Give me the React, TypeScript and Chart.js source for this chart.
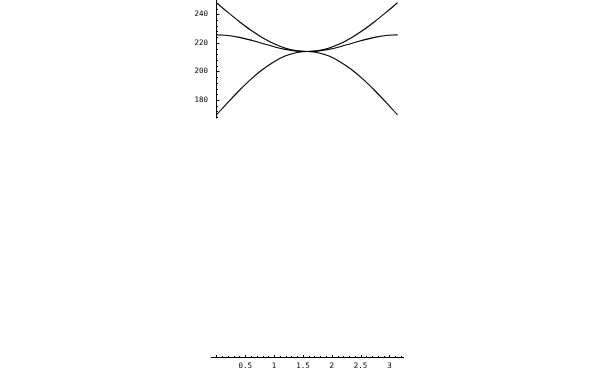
import React, { useEffect, useRef } from "react";
import { Chart, registerables } from "chart.js";

Chart.register(...registerables);

// sample positions along the x axis (0 .. pi)
const xs = [0, 0.2, 0.4, 0.6, 0.8, 1.0, 1.2, 1.4, 1.5708, 1.7416, 1.9416, 2.1416, 2.3416, 2.5416, 2.7416, 2.9416, 3.1416];
// upper curve (steep at ends)
const upperY = [248.1, 241.3, 234.8, 228.8, 223.6, 219.3, 216.2, 214.4, 213.9, 214.4, 216.2, 219.3, 223.6, 228.8, 234.8, 241.3, 248.1];
// middle curve (flat)
const middleY = [225.6, 225.1, 223.8, 221.9, 219.6, 217.3, 215.4, 214.2, 213.9, 214.2, 215.4, 217.3, 219.6, 221.9, 223.8, 225.1, 225.6];
// lower curve
const lowerY = [169.5, 178.3, 186.8, 194.6, 201.3, 206.8, 210.9, 213.2, 213.9, 213.2, 210.9, 206.8, 201.3, 194.6, 186.8, 178.3, 169.5];

const xTickLabels = [0.5, 1, 1.5, 2, 2.5, 3];
const yTickLabels = [180, 200, 220, 240];

const X_MIN = -0.0942;
const X_MAX = 3.2358;
const Y_MIN = 0;
const Y_MAX = 250;
const Y_AXIS_FROM = 167.1;
const Y_AXIS_TO = 250.9;

const FONT = { family: "'DejaVu Sans Mono', 'Liberation Mono', monospace", size: 7.5 };

const axesPlugin = {
  id: "mmaAxes",
  afterDraw(chart: any) {
    const { ctx } = chart;
    const xs_ = chart.scales.x;
    const ys_ = chart.scales.y;
    ctx.save();
    ctx.strokeStyle = "#000";
    ctx.lineWidth = 1;
    // y axis line at x = 0
    const ax = Math.round(xs_.getPixelForValue(0)) + 0.5;
    ctx.beginPath();
    ctx.moveTo(ax, ys_.getPixelForValue(Y_AXIS_FROM));
    ctx.lineTo(ax, ys_.getPixelForValue(Y_AXIS_TO));
    ctx.stroke();
    // y ticks: majors every 20, minors every 4
    for (let v = 168; v <= 250; v += 4) {
      const py = Math.round(ys_.getPixelForValue(v)) + 0.5;
      const major = v % 20 === 0;
      ctx.beginPath();
      ctx.moveTo(ax, py);
      ctx.lineTo(ax + (major ? 3 : 1.5), py);
      ctx.stroke();
    }
    // x ticks pointing up from the x axis
    const by = Math.round(chart.chartArea.bottom);
    for (let i = 0; i <= 32; i++) {
      const v = i / 10;
      const px = Math.round(xs_.getPixelForValue(v)) + 0.5;
      const major = i % 5 === 0;
      ctx.beginPath();
      ctx.moveTo(px, by);
      ctx.lineTo(px, by - (major ? 2 : 1));
      ctx.stroke();
    }
    ctx.restore();
  },
};

function makeDataset(label: string, ys: number[]) {
  return {
    label,
    data: xs.map((x, i) => ({ x, y: ys[i] })),
    borderColor: "#000",
    borderWidth: 1.1,
    pointRadius: 0,
    fill: false,
    cubicInterpolationMode: "monotone" as const,
  };
}

export default function App() {
  const ref = useRef<HTMLCanvasElement | null>(null);
  useEffect(() => {
    if (!ref.current) return;
    const chart = new Chart(ref.current, {
      type: "line",
      data: {
        datasets: [
          makeDataset("upper", upperY),
          makeDataset("middle", middleY),
          makeDataset("lower", lowerY),
        ],
      },
      options: {
        animation: false,
        responsive: false,
        devicePixelRatio: 1,
        layout: { padding: { left: 171, right: 197, top: 0, bottom: 0 } },
        plugins: { legend: { display: false }, tooltip: { enabled: false } },
        scales: {
          x: {
            type: "linear",
            min: X_MIN,
            max: X_MAX,
            grid: { display: true, drawOnChartArea: false, drawTicks: false, tickLength: 0 },
            border: { display: true, color: "#000", width: 1 },
            afterBuildTicks: (s: any) => {
              s.ticks = xTickLabels.map((v) => ({ value: v }));
            },
            afterFit: (s: any) => {
              s.height = 13;
              s.paddingLeft = 0;
              s.paddingRight = 0;
            },
            ticks: {
              color: "#000",
              font: FONT,
              padding: 5,
              maxRotation: 0,
              autoSkip: false,
              callback: (v: any) => String(v),
            },
          },
          y: {
            type: "linear",
            min: Y_MIN,
            max: Y_MAX,
            grid: { display: false, drawTicks: false },
            border: { display: false },
            afterBuildTicks: (s: any) => {
              s.ticks = yTickLabels.map((v) => ({ value: v }));
            },
            afterFit: (s: any) => {
              s.width = 40;
              s.paddingTop = 0;
              s.paddingBottom = 0;
            },
            ticks: {
              color: "#000",
              font: FONT,
              padding: 3,
              autoSkip: false,
              callback: (v: any) => String(v),
            },
          },
        },
      },
      plugins: [axesPlugin],
    });
    return () => chart.destroy();
  }, []);
  return (
    <div style={{ position: "absolute", left: 0, top: 0, width: 600, height: 370, background: "#fff" }}>
      <canvas ref={ref} width={600} height={370} style={{ display: "block", width: 600, height: 370 }} />
    </div>
  );
}
